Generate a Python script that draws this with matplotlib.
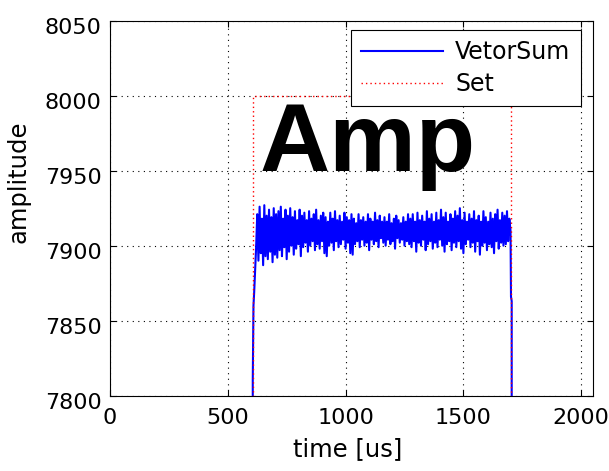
import matplotlib
matplotlib.use("Agg")
import matplotlib.pyplot as plt
import matplotlib.transforms as mtransforms
import numpy as np

# ---- data ----
# set point (red dotted)
set_time = [0, 605, 605, 1700, 1700, 2050]
set_amp = [0, 0, 8000, 8000, 0, 0]

# vector sum: rising edge, noisy flat top (5 us steps from 625 us), falling edge
rise_time = [0, 603, 606, 609, 612, 616, 620]
rise_amp = [0, 0, 7810, 7860, 7869, 7883, 7898]

band_start = 625
band_step = 5
band_amp = [
    7921, 7890, 7926, 7895, 7918, 7887, 7927, 7893, 7920, 7891,
    7924, 7896, 7919, 7889, 7925, 7894, 7921, 7892, 7923, 7897,
    7926, 7893, 7918, 7899, 7924, 7891, 7920, 7896, 7925, 7900,
    7919, 7894, 7923, 7898, 7917, 7901, 7924, 7893, 7920, 7899,
    7922, 7902, 7917, 7896, 7923, 7900, 7918, 7903, 7921, 7897,
    7924, 7901, 7917, 7898, 7920, 7903, 7922, 7895, 7919, 7893,
    7916, 7900, 7922, 7902, 7918, 7897, 7923, 7903, 7917, 7899,
    7920, 7901, 7916, 7904, 7922, 7898, 7919, 7902, 7917, 7895,
    7921, 7894, 7918, 7901, 7915, 7903, 7921, 7899, 7917, 7904,
    7919, 7900, 7916, 7902, 7921, 7897, 7918, 7904, 7916, 7901,
    7922, 7903, 7917, 7899, 7920, 7905, 7916, 7902, 7919, 7900,
    7916, 7904, 7921, 7901, 7915, 7903, 7918, 7898, 7920, 7905,
    7917, 7902, 7915, 7904, 7919, 7900, 7916, 7903, 7921, 7901,
    7918, 7899, 7921, 7903, 7916, 7896, 7922, 7902, 7917, 7900,
    7920, 7904, 7916, 7897, 7923, 7901, 7918, 7903, 7921, 7898,
    7916, 7902, 7922, 7899, 7917, 7904, 7924, 7900, 7919, 7896,
    7922, 7901, 7916, 7903, 7921, 7897, 7918, 7902, 7923, 7899,
    7920, 7903, 7925, 7898, 7917, 7895, 7922, 7901, 7916, 7904,
    7921, 7899, 7918, 7902, 7923, 7896, 7917, 7903, 7920, 7894,
    7916, 7900, 7923, 7902, 7919, 7897, 7916, 7901, 7922, 7899,
    7918, 7895, 7921, 7903, 7924, 7898, 7917, 7902, 7922, 7900,
    7920, 7901, 7923, 7903, 7918, 7910,
]

fall_time = [1702, 1705, 1706, 2050]
fall_amp = [7866, 7863, 0, 0]

x_ticks = [0, 500, 1000, 1500, 2000]
y_ticks = [7800, 7850, 7900, 7950, 8000, 8050]

# ---- build the trace ----
band_time = band_start + band_step * np.arange(len(band_amp))
vsum_time = np.concatenate([rise_time, band_time, fall_time])
vsum_amp = np.concatenate([rise_amp, band_amp, fall_amp])

fig = plt.figure(figsize=(6.09, 4.71), dpi=100)
ax = fig.add_axes([0.1806, 0.1599, 0.7931, 0.7962])

ax.plot(vsum_time, vsum_amp, color="#0000ff", lw=1.5, label="VetorSum", zorder=3)
ax.plot(set_time, set_amp, color="#ff0000", lw=1.0, linestyle=(0, (1, 2.2)),
        label="Set", zorder=4)

ax.set_xlim(0, 2050)
ax.set_ylim(7800, 8050)
ax.set_xticks(x_ticks)
ax.set_yticks(y_ticks)

# matlab-like look: ticks inside on all sides, dotted grid
ax.tick_params(direction="in", length=4.3, width=0.8, top=True, right=True,
               labelsize=16)
ax.tick_params(axis="x", pad=9)
ax.tick_params(axis="y", pad=6)
ax.grid(True, color="black", lw=0.8, linestyle=(0, (1, 4)))
for sp in ax.spines.values():
    sp.set_linewidth(0.8)

# y tick labels sit a bit low in the reference
offset = mtransforms.ScaledTranslation(0, -4.0 / 72, fig.dpi_scale_trans)
for lab in ax.get_yticklabels():
    lab.set_transform(lab.get_transform() + offset)

ax.set_xlabel("time [us]", fontsize=17.5)
ax.set_ylabel("amplitude", fontsize=17.5)
ax.xaxis.set_label_coords(0.493, -0.11)
ax.yaxis.set_label_coords(-0.165, 0.57)

ax.text(637, 7950, "Amp", fontsize=70, fontweight="bold",
        family="Liberation Sans", ha="left", va="baseline", zorder=5)

leg = ax.legend(loc="upper right", bbox_to_anchor=(0.9745, 0.9752),
                borderaxespad=0, fontsize=17, fancybox=False, framealpha=1,
                edgecolor="black", handlelength=3.5, handletextpad=0.5,
                labelspacing=0.33, borderpad=0.43)
leg.get_frame().set_linewidth(0.8)

fig.savefig("out.png", dpi=100)
